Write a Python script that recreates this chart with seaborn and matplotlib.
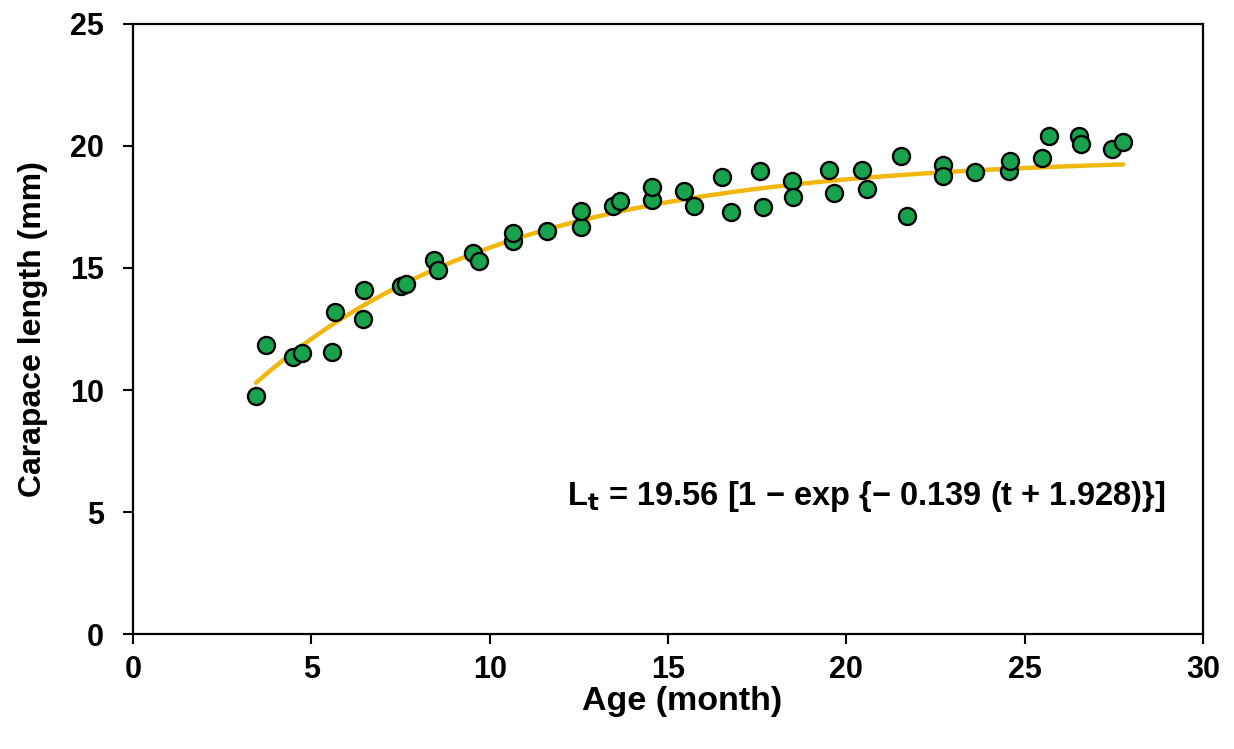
import numpy as np
import pandas as pd
import matplotlib
matplotlib.use("Agg")
import matplotlib.pyplot as plt
import seaborn as sns

# Observed age (months) and carapace length (mm)
age_month = [3.45, 3.73, 4.49, 4.74, 5.58, 5.66, 6.45, 6.48, 7.51, 7.64,
             8.43, 8.55, 9.53, 9.69, 10.65, 10.65, 11.60, 12.56, 12.56, 13.46,
             13.65, 14.55, 14.55, 15.45, 15.73, 16.51, 16.76, 17.58, 17.66, 18.48,
             18.50, 19.51, 19.65, 20.44, 20.58, 21.53, 21.70, 22.71, 22.71, 23.60,
             24.56, 24.59, 25.49, 25.68, 26.52, 26.58, 27.45, 27.76]
carapace_mm = [9.75, 11.84, 11.35, 11.52, 11.56, 13.20, 12.90, 14.10, 14.26, 14.34,
               15.33, 14.92, 15.61, 15.29, 16.11, 16.43, 16.52, 16.70, 17.34, 17.54,
               17.75, 17.79, 18.32, 18.16, 17.54, 18.73, 17.30, 18.98, 17.50, 18.57,
               17.91, 19.00, 18.07, 19.00, 18.24, 19.59, 17.13, 19.22, 18.77, 18.93,
               18.98, 19.37, 19.51, 20.41, 20.41, 20.08, 19.88, 20.16]

# von Bertalanffy growth parameters
L_inf = 19.56
K = 0.139
t0 = -1.928

x_ticks = [0, 5, 10, 15, 20, 25, 30]
y_ticks = [0, 5, 10, 15, 20, 25]

sns.set_theme(style="ticks")
plt.rcParams["font.family"] = ["Liberation Sans", "DejaVu Sans"]
plt.rcParams["font.weight"] = "bold"
plt.rcParams["text.color"] = "black"
plt.rcParams["axes.labelcolor"] = "black"
plt.rcParams["xtick.color"] = "black"
plt.rcParams["ytick.color"] = "black"

obs = pd.DataFrame({"age": age_month, "length": carapace_mm})
t = np.linspace(min(age_month), max(age_month), 200)
fit = pd.DataFrame({"age": t, "length": L_inf * (1 - np.exp(-K * (t - t0)))})

fig = plt.figure(figsize=(12.34, 7.49), dpi=100)
ax = fig.add_axes([0.1078, 0.1535, 0.8671, 0.8145])

sns.lineplot(data=fit, x="age", y="length", ax=ax, color="#f2b70c",
             linewidth=3.2, zorder=2)
sns.scatterplot(data=obs, x="age", y="length", ax=ax, color="#17a24b",
                edgecolor="black", linewidth=1.7, s=150, zorder=3)

ax.set_xlim(0, 30)
ax.set_ylim(0, 25)
ax.set_xticks(x_ticks, labels=[str(v) for v in x_ticks],
              fontsize=22, fontweight="bold", color="black")
ax.set_yticks(y_ticks, labels=[str(v) for v in y_ticks],
              fontsize=22, fontweight="bold", color="black")
ax.tick_params(axis="both", direction="out", length=7, width=1.5,
               color="black")
ax.tick_params(axis="x", pad=8)
ax.tick_params(axis="y", pad=14)
for sp in ax.spines.values():
    sp.set_linewidth(1.6)
    sp.set_color("black")

ax.set_xlabel("Age (month)", fontsize=24.5, fontweight="bold", color="black")
ax.xaxis.set_label_coords(0.513, -0.085)
ax.set_ylabel("Carapace length (mm)", fontsize=23, fontweight="bold",
              labelpad=16, color="black")

ax.text(0.965, 0.225,
        "L$_\\mathbf{t}$ = 19.56 [1 \u2212 exp {\u2212 0.139 (t + 1.928)}]",
        transform=ax.transAxes, ha="right", va="center",
        fontsize=23.5, fontweight="bold", color="black")

fig.savefig("out.png", dpi=100, facecolor="white")
